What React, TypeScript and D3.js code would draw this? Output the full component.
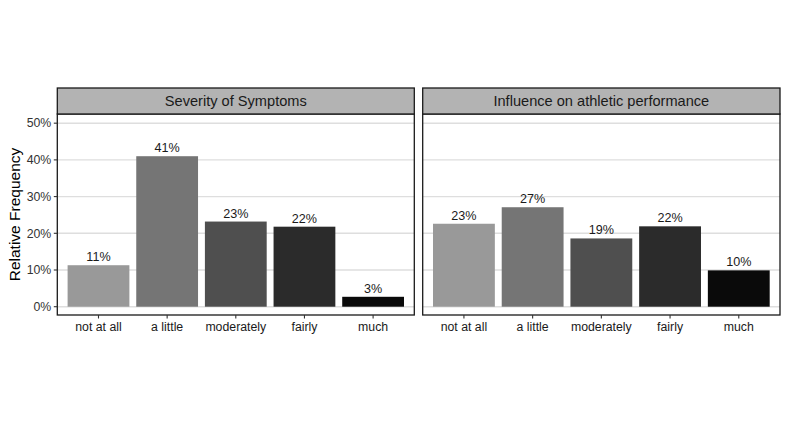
import React from "react";
import * as d3 from "d3";

// chart data
const categories = ["not at all", "a little", "moderately", "fairly", "much"];
const panelTitles = ["Severity of Symptoms", "Influence on athletic performance"];
const severityValues = [0.113, 0.41, 0.232, 0.218, 0.027];
const influenceValues = [0.226, 0.271, 0.186, 0.219, 0.099];
const yTicks = [0, 0.1, 0.2, 0.3, 0.4, 0.5];
const fills = ["#999999", "#757575", "#4f4f4f", "#2b2b2b", "#0a0a0a"];

const W = 786;
const H = 442;
const font = "'Liberation Sans', Arial, Helvetica, sans-serif";

// layout
const stripTop = 88;
const panelTop = 114;
const panelBottom = 315;
const panels = [
  { x0: 57.3, x1: 414.3, values: severityValues, title: panelTitles[0] },
  { x0: 422.7, x1: 780, values: influenceValues, title: panelTitles[1] },
];

const fmt = (v: number) => `${Math.round(v * 100)}%`;

const y = d3.scaleLinear().domain([-0.0226, 0.525]).range([panelBottom, panelTop]);

const Panel = ({ p, showY }: { p: typeof panels[0]; showY: boolean }) => {
  const x = d3
    .scaleBand<string>()
    .domain(categories)
    .range([p.x0, p.x1])
    .paddingInner(0.1)
    .paddingOuter(0.15);
  return (
    <g>
      {/* panel background + grid */}
      <rect x={p.x0} y={panelTop} width={p.x1 - p.x0} height={panelBottom - panelTop} fill="#ffffff" />
      {yTicks.map((t) => (
        <line key={t} x1={p.x0} x2={p.x1} y1={y(t)} y2={y(t)} stroke="#dedede" strokeWidth={1.4} />
      ))}
      {/* bars */}
      {categories.map((c, i) => (
        <g key={c}>
          <rect
            x={x(c)!}
            y={y(p.values[i])}
            width={x.bandwidth()}
            height={y(0) - y(p.values[i])}
            fill={fills[i]}
          />
          <text
            x={x(c)! + x.bandwidth() / 2}
            y={y(p.values[i]) - 4}
            textAnchor="middle"
            fontSize={12.6}
            fill="#1a1a1a"
          >
            {fmt(p.values[i])}
          </text>
        </g>
      ))}
      <rect
        x={p.x0}
        y={panelTop}
        width={p.x1 - p.x0}
        height={panelBottom - panelTop}
        fill="none"
        stroke="#1a1a1a"
        strokeWidth={1.3}
      />
      {/* strip */}
      <rect
        x={p.x0}
        y={stripTop}
        width={p.x1 - p.x0}
        height={panelTop - stripTop}
        fill="#b3b3b3"
        stroke="#1a1a1a"
        strokeWidth={1.3}
      />
      <text
        x={(p.x0 + p.x1) / 2}
        y={(stripTop + panelTop) / 2 + 5}
        textAnchor="middle"
        fontSize={14.6}
        fill="#1a1a1a"
      >
        {p.title}
      </text>
      {/* x axis */}
      {categories.map((c) => {
        const cx = x(c)! + x.bandwidth() / 2;
        return (
          <g key={c}>
            <line x1={cx} x2={cx} y1={panelBottom} y2={panelBottom + 3.5} stroke="#333333" strokeWidth={1.1} />
            <text x={cx} y={panelBottom + 16} textAnchor="middle" fontSize={12.3} fill="#1a1a1a">
              {c}
            </text>
          </g>
        );
      })}
      {/* y axis */}
      {showY &&
        yTicks.map((t) => (
          <g key={t}>
            <line x1={p.x0 - 3.5} x2={p.x0} y1={y(t)} y2={y(t)} stroke="#333333" strokeWidth={1.1} />
            <text x={p.x0 - 6} y={y(t) + 4.3} textAnchor="end" fontSize={12.3} fill="#333333">
              {fmt(t)}
            </text>
          </g>
        ))}
    </g>
  );
};

const App = () => {
  return (
    <svg
      width={W}
      height={H}
      style={{ position: "absolute", left: 0, top: 0, fontFamily: font }}
    >
      <rect width={W} height={H} fill="#ffffff" />
      {panels.map((p, i) => (
        <Panel key={p.title} p={p} showY={i === 0} />
      ))}
      <text
        transform={`translate(20,${(panelTop + panelBottom) / 2}) rotate(-90)`}
        textAnchor="middle"
        fontSize={15.5}
        fill="#000000"
      >
        Relative Frequency
      </text>
    </svg>
  );
};

export default App;
